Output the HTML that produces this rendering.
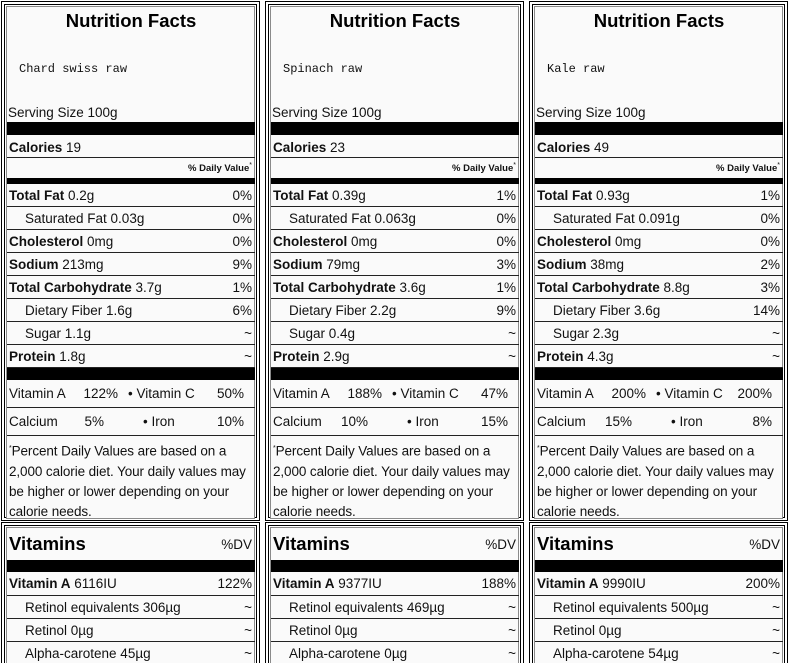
<!DOCTYPE html>
<html><head><meta charset="utf-8">
<style>
html,body{margin:0;width:790px;height:663px;overflow:hidden}
body{background:#fff;font-family:"Liberation Sans",Arial,sans-serif;color:#111;position:relative}
.a{position:absolute;box-sizing:border-box;white-space:nowrap}
.ob{border:4px double #000}
.gb{border:1px solid #8a8a8a;background:#fafafa}
.bar{background:#000}
.row{border-bottom:1px solid #222;font-size:13.5px}
.t{position:absolute;top:0;bottom:0;display:flex;align-items:center}
b{font-weight:bold}
</style></head><body>
<script>
const names=["Chard swiss raw","Spinach raw","Kale raw"];
const calories=[19,23,49];
const nutrientLabels=["Total Fat","Saturated Fat","Cholesterol","Sodium","Total Carbohydrate","Dietary Fiber","Sugar","Protein"];
const nutrientIndent=[0,1,0,0,0,1,1,0];
const amounts=[["0.2g","0.03g","0mg","213mg","3.7g","1.6g","1.1g","1.8g"],["0.39g","0.063g","0mg","79mg","3.6g","2.2g","0.4g","2.9g"],["0.93g","0.091g","0mg","38mg","8.8g","3.6g","2.3g","4.3g"]];
const dvs=[["0%","0%","0%","9%","1%","6%","~","~"],["1%","0%","0%","3%","1%","9%","~","~"],["1%","0%","0%","2%","3%","14%","~","~"]];
const vitA=["122%","188%","200%"],vitC=["50%","47%","200%"],calcium=["5%","10%","15%"],iron=["10%","15%","8%"];
const vitAIU=["6116IU","9377IU","9990IU"];
const subLabels=["Retinol equivalents","Retinol","Alpha-carotene"];
const subVals=[["306µg","0µg","45µg"],["469µg","0µg","0µg"],["500µg","0µg","54µg"]];
const lefts=[0,264,528];

function mk(cls,x,y,w,h,name,html){
  const el=document.createElement('div');
  el.className='a '+cls;
  el.style.left=x+'px';el.style.top=y+'px';el.style.width=w+'px';el.style.height=h+'px';
  
  
  if(html!==undefined) el.innerHTML=html;
  document.body.appendChild(el);
  return el;
}
function txt(parent,x,right,html,style,name){
  const s=document.createElement('div');
  s.className='t';
  if(right) s.style.right=x+'px'; else s.style.left=x+'px';
  if(style) s.style.cssText+=style;
  s.innerHTML=html;
  
  
  parent.appendChild(s);
  return s;
}
lefts.forEach((L,p)=>{
  mk('ob',L+1,1,259,520,'nutrition-panel-outer');
  mk('gb',L+6,6,249,513,'nutrition-panel-inner');
  mk('',L+8,8,246,26,'panel-title','').style.cssText+='font-weight:bold;font-size:18.5px;text-align:center;line-height:26px;color:#000';
  document.body.lastChild.textContent='Nutrition Facts';
  mk('',L+19,61,230,16,'food-name','').style.cssText+='font-family:"Liberation Mono",monospace;font-size:12px;line-height:16px';
  document.body.lastChild.textContent=names[p];
  mk('',L+8,104,240,17,'serving-size','Serving Size 100g').style.cssText+='font-size:13.5px;line-height:17px';
  mk('bar',L+7,122,248,13,'thick-divider');
  const cr=mk('row',L+7,137,248,21,'calories-row');
  txt(cr,2,false,'<b>Calories</b>&nbsp;'+calories[p],'','calories-value');
  const dr=mk('',L+7,159,248,19,'daily-value-header');
  txt(dr,3,true,'<b>% Daily Value</b><sup style="font-size:7px;align-self:flex-start;margin-top:3px">*</sup>','font-size:9.5px','daily-value-label');
  mk('bar',L+7,178,248,6,'medium-divider');
  nutrientLabels.forEach((lab,i)=>{
    const r=mk('row',L+7,184+23*i,248,23,'nutrient-row');
    const lbl=nutrientIndent[i]?lab:'<b>'+lab+'</b>';
    txt(r,nutrientIndent[i]?18:2,false,lbl+'&nbsp;'+amounts[p][i],'','nutrient-label');
    txt(r,3,true,dvs[p][i],'','nutrient-dv');
  });
  mk('bar',L+7,368,248,12,'thick-divider');
  const vr=mk('row',L+7,380,248,28,'vitamin-row');
  txt(vr,2,false,'Vitamin A','','vitamin-a-label');
  txt(vr,137,true,vitA[p],'','vitamin-a-value');
  txt(vr,121,false,'•&nbsp;Vitamin C','','vitamin-c-label');
  txt(vr,11,true,vitC[p],'','vitamin-c-value');
  const mr=mk('row',L+7,408,248,28,'mineral-row');
  txt(mr,2,false,'Calcium','','calcium-label');
  txt(mr,151,true,calcium[p],'','calcium-value');
  txt(mr,136,false,'•&nbsp;Iron','','iron-label');
  txt(mr,11,true,iron[p],'','iron-value');
  mk('',L+9,439,246,80,'footnote','<sup style="font-size:7px">*</sup>Percent Daily Values are based on a<br>2,000 calorie diet. Your daily values may<br>be higher or lower depending on your<br>calorie needs.').style.cssText+='font-size:13.5px;line-height:20px;letter-spacing:-0.1px';
  mk('ob',L+1,522,259,160,'vitamins-panel-outer');
  mk('gb',L+6,527,249,150,'vitamins-panel-inner');
  const vh=mk('',L+7,531,248,26,'vitamins-header');
  txt(vh,2,false,'Vitamins','font-weight:bold;font-size:18.5px;color:#000','vitamins-title');
  txt(vh,3,true,'%DV','font-size:13.5px','dv-header');
  mk('bar',L+7,560,248,12,'thick-divider');
  const va=mk('row',L+7,572,248,24,'vitamin-a-detail-row');
  txt(va,2,false,'<b>Vitamin A</b>&nbsp;'+vitAIU[p],'','vitamin-a-iu');
  txt(va,3,true,vitA[p],'','vitamin-a-dv');
  subLabels.forEach((lab,i)=>{
    const r=mk('row',L+7,596+23*i,248,23,'vitamin-sub-row');
    txt(r,18,false,lab+'&nbsp;'+subVals[p][i],'','vitamin-sub-label');
    txt(r,3,true,'~','','vitamin-sub-dv');
  });
});
</script>
</body></html>
